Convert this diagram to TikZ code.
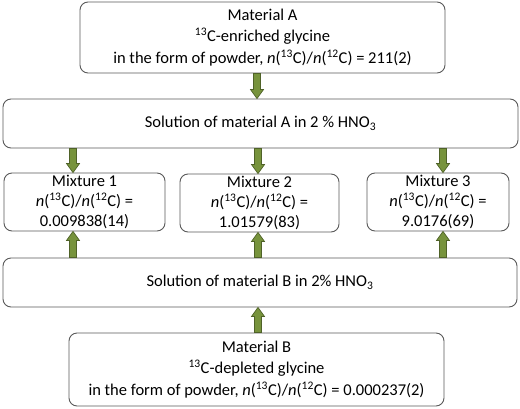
\documentclass[tikz,border=0pt]{standalone}
\usepackage{fontspec}
\setmainfont{Carlito}
\usetikzlibrary{calc}
\definecolor{olive}{HTML}{77933C}
\definecolor{olivedark}{HTML}{4F6228}
\definecolor{boxline}{HTML}{595959}
\begin{document}
\begin{tikzpicture}[x=1pt,y=-1pt,
  box/.style={draw=boxline,line width=0.9pt,rounded corners=8pt,align=center,inner sep=0pt,
    font=\fontsize{16.5}{21.5}\selectfont},
  mix/.style={box,font=\fontsize{16.5}{20}\selectfont},
  fat/.style={fill=olive,draw=olivedark,line width=0.7pt,
    to path={($(\tikztostart)+(-3.5,0)$) -- ($(\tikztostart)+(3.5,0)$)
      -- ($($(\tikztotarget)!9pt!(\tikztostart)$)+(3.5,0)$)
      -- ($($(\tikztotarget)!9pt!(\tikztostart)$)+(6.5,0)$)
      -- (\tikztotarget)
      -- ($($(\tikztotarget)!9pt!(\tikztostart)$)+(-6.5,0)$)
      -- ($($(\tikztotarget)!9pt!(\tikztostart)$)+(-3.5,0)$)
      -- cycle}}]
\useasboundingbox (0,0) rectangle (520,408);
\newcommand{\ratio}{\textit{n}(\textsuperscript{13}C)/\textit{n}(\textsuperscript{12}C)}
\node[box,minimum width=365pt,minimum height=71pt] (A) at (262.5,37.5)
  {Material A\\\textsuperscript{13}C-enriched glycine\\in the form of powder, \ratio{} = 211(2)};
\node[box,minimum width=515pt,minimum height=49pt] (solA) at (260.5,123.5)
  {Solution of material A in 2 \% HNO\textsubscript{3}};
\node[mix,minimum width=161pt,minimum height=58pt] (m1) at (84.5,202)
  {Mixture 1\\\ratio{} =\\0.009838(14)};
\node[mix,minimum width=159pt,minimum height=58pt] (m2) at (259.5,203)
  {Mixture 2\\\ratio{} =\\1.01579(83)};
\node[mix,minimum width=142pt,minimum height=58pt] (m3) at (438,202)
  {Mixture 3\\\ratio{} =\\9.0176(69)};
\node[box,minimum width=514pt,minimum height=49pt] (solB) at (260,282.5)
  {Solution of material B in 2\% HNO\textsubscript{3}};
\node[box,minimum width=375pt,minimum height=73pt] (B) at (256.5,369.5)
  {Material B\\\textsuperscript{13}C-depleted glycine\\in the form of powder, \ratio{} = 0.000237(2)};
\coordinate (x0) at (257,0);
\coordinate (x1) at (73,0);
\coordinate (x2) at (258,0);
\coordinate (x3) at (443,0);
\draw[fat] (A.south -| x0) to (solA.north -| x0);
\draw[fat] (solA.south -| x1) to (m1.north -| x1);
\draw[fat] (solA.south -| x2) to (m2.north -| x2);
\draw[fat] (solA.south -| x3) to (m3.north -| x3);
\draw[fat] (solB.north -| x1) to (m1.south -| x1);
\draw[fat] (solB.north -| x2) to (m2.south -| x2);
\draw[fat] (solB.north -| x3) to (m3.south -| x3);
\draw[fat] (B.north -| x2) to (solB.south -| x2);
\end{tikzpicture}
\end{document}
